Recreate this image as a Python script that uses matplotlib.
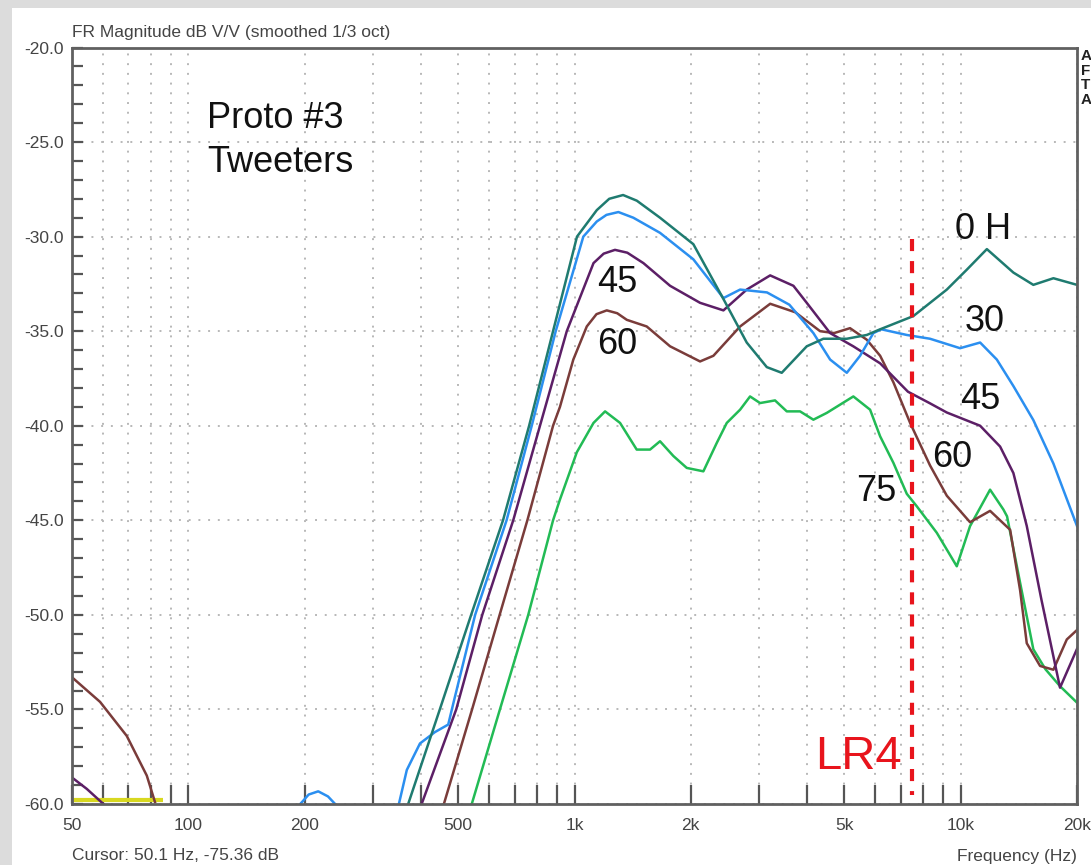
import numpy as np
import matplotlib.pyplot as plt
from matplotlib.patches import Rectangle
from matplotlib.ticker import FixedLocator, FixedFormatter

plt.rcParams['font.family'] = ['Liberation Sans', 'DejaVu Sans']

# ====================================
# DATA
# ====================================

# 0 H (on axis)
f_0h = [371, 448, 540, 653, 763, 880, 1015, 1142, 1230, 1336, 1450, 1665, 2031, 2430, 2792,
        3147, 3440, 3993, 4409, 5070, 5711, 6185, 7541, 9204, 10366, 11686, 13687, 15417,
        17377, 20000]
db_0h = [-60, -55, -50, -45, -40, -35, -30, -28.6, -28.0, -27.8, -28.1, -29.0, -30.4, -33.3, -35.6,
         -36.9, -37.2, -35.8, -35.4, -35.4, -35.2, -34.9, -34.2, -32.8, -31.75, -30.66, -31.9, -32.55,
         -32.2, -32.55]

# 30 deg
f_30 = [351, 368, 398, 435, 471, 488, 553, 667, 775, 894, 1054, 1142, 1210, 1299, 1420, 1665,
        2031, 2430, 2684, 3150, 3600, 4154, 4590, 5070, 5488, 5941, 6230, 7250, 8328, 9961,
        11226, 12400, 13687, 15417, 17377, 20000]
db_30 = [-60, -58.2, -56.8, -56.2, -55.8, -54.5, -50, -45, -40, -35, -30, -29.2, -28.85, -28.7, -29.0, -29.8,
         -31.2, -33.25, -32.8, -32.95, -33.6, -35.1, -36.5, -37.2, -36.3, -35.1, -34.9, -35.2, -35.4, -35.9,
         -35.6, -36.5, -37.9, -39.7, -42.0, -45.3]

# 45 deg
f_45 = [402, 494, 577, 694, 814, 955, 1120, 1190, 1273, 1370, 1508, 1768, 2114, 2430, 2792,
        3211, 3688, 3993, 4590, 5270, 6185, 7300, 8300, 9204, 11226, 12645, 13687, 14824,
        16180, 17377, 18075, 20000]
db_45 = [-60, -55, -50, -45, -40, -35, -31.4, -30.9, -30.7, -30.85, -31.4, -32.6, -33.5, -33.9, -32.8,
         -32.05, -32.6, -33.5, -35.1, -35.8, -36.7, -38.2, -38.8, -39.3, -40.0, -41.1, -42.5, -45.3,
         -49.2, -52.2, -53.85, -51.8]
f_45_lo = [50, 54.6, 60.3]
db_45_lo = [-58.6, -59.2, -60]

# 60 deg
f_60 = [459, 543, 640, 755, 880, 917, 993, 1076, 1140, 1212, 1290, 1366, 1538, 1768, 2114,
        2289, 2684, 3211, 3730, 4324, 4700, 5168, 5711, 6185, 6693, 7395, 8328, 9204,
        10570, 11912, 13425, 14247, 14824, 16048, 17377, 18820, 20000]
db_60 = [-60, -55, -50, -45, -40, -39.0, -36.5, -34.75, -34.1, -33.9, -34.05, -34.4, -34.75, -35.8, -36.6,
         -36.3, -34.75, -33.55, -34.0, -35.0, -35.1, -34.84, -35.45, -36.3, -37.7, -39.85, -42.1, -43.7,
         -45.1, -44.5, -45.5, -48.7, -51.5, -52.7, -52.9, -51.3, -50.8]
f_60_lo = [50, 59.1, 69.3, 78.1, 82]
db_60_lo = [-53.3, -54.6, -56.4, -58.5, -59.9]

# 75 deg
f_75 = [542, 641, 759, 880, 917, 1014, 1120, 1200, 1312, 1449, 1569, 1665, 1803, 1953,
        2156, 2335, 2479, 2684, 2848, 3023, 3305, 3545, 3837, 4154, 4500, 5272, 5825,
        6185, 6693, 7250, 7696, 8670, 9767, 10570, 11912, 12896, 13180, 14247, 15417,
        16580, 18075, 20000]
db_75 = [-60, -55, -50, -45, -43.9, -41.4, -39.85, -39.24, -39.85, -41.26, -41.26, -40.82, -41.6, -42.23,
         -42.41, -40.91, -39.85, -39.15, -38.45, -38.8, -38.66, -39.24, -39.24, -39.68, -39.32, -38.45, -39.15,
         -40.56, -41.96, -43.6, -44.26, -45.66, -47.43, -45.31, -43.38, -44.43, -44.79, -48.3, -51.82,
         -52.88, -53.77, -54.64]

# small 30 deg blip around 200 Hz and the yellow floor trace
f_30_blip = [195, 205, 217, 230, 240]
db_30_blip = [-60, -59.5, -59.33, -59.6, -60]
f_floor = [50, 86]
db_floor = [-59.8, -59.8]

crossover_hz = 7480
crossover_db = [-30.1, -59.5]

tick_f = [50, 60, 70, 80, 90, 100, 200, 300, 400, 500, 600, 700, 800, 900, 1000,
          2000, 3000, 4000, 5000, 6000, 7000, 8000, 9000, 10000, 20000]
tick_lbl = ['50', '', '', '', '', '100', '200', '', '', '500', '', '', '', '', '1k',
            '2k', '', '', '5k', '', '', '', '', '10k', '20k']

# ====================================
# PLOT
# ====================================

fig = plt.figure(figsize=(10.91, 8.65), dpi=100, facecolor='#dcdcdc')
fig.patches.append(Rectangle((12 / 1091, 0), 1, 1 - 8 / 865, transform=fig.transFigure,
                             facecolor='white', edgecolor='none', zorder=-1))
ax = fig.add_axes([72 / 1091, 61 / 865, 1005 / 1091, 756.5 / 865])

c_0h = '#1f7b70'
c_30 = '#2b8ff0'
c_45 = '#5c1f66'
c_60 = '#7a3c3a'
c_75 = '#22bb55'

ax.semilogx(f_floor, db_floor, color='#d8d820', lw=3, solid_capstyle='butt', zorder=2)
ax.semilogx(f_60_lo, db_60_lo, color=c_60, lw=1.8)
ax.semilogx(f_45_lo, db_45_lo, color=c_45, lw=1.8)
ax.semilogx(f_30_blip, db_30_blip, color=c_30, lw=1.8)
ax.semilogx(f_75, db_75, color=c_75, lw=1.8)
ax.semilogx(f_60, db_60, color=c_60, lw=1.8)
ax.semilogx(f_45, db_45, color=c_45, lw=1.8)
ax.semilogx(f_30, db_30, color=c_30, lw=1.8)
ax.semilogx(f_0h, db_0h, color=c_0h, lw=1.8)

ax.plot([crossover_hz, crossover_hz], crossover_db, color='#e8141c', lw=3,
        dashes=(2.9, 2.4), zorder=4)

ax.set_xlim(50, 20000)
ax.set_ylim(-60, -20)

ax.xaxis.set_major_locator(FixedLocator(tick_f))
ax.xaxis.set_major_formatter(FixedFormatter(tick_lbl))
ax.xaxis.set_minor_locator(FixedLocator([]))
ax.set_yticks(np.arange(-60, -19, 5))
ax.set_yticklabels(['%.1f' % v for v in np.arange(-60, -19, 5)])
ax.set_yticks(np.arange(-60, -19, 1), minor=True)

ax.tick_params(axis='x', which='major', direction='in', length=14, width=1.6, color='#555',
               pad=10, labelsize=12.5, labelcolor='#444')
ax.tick_params(axis='y', which='major', direction='in', length=8, width=1.6, color='#555',
               labelsize=12.5, labelcolor='#444', pad=6)
ax.tick_params(axis='y', which='minor', direction='in', length=8, width=1.6, color='#555')

ax.grid(True, which='major', color='#b8b8b8', lw=1.4, linestyle=(0, (1, 4)))
ax.set_axisbelow(True)

for s in ax.spines.values():
    s.set_color('#606060')
    s.set_linewidth(2)

# annotations
txt = dict(fontsize=26, color='#111', va='center', ha='left')
ax.text(112, -23.75, 'Proto #3', **txt)
ax.text(112, -26.1, 'Tweeters', **txt)
ax.text(9650, -29.6, '0 H', **txt)
ax.text(10265, -34.5, '30', **txt)
ax.text(1143, -32.4, '45', **txt)
ax.text(1143, -35.7, '60', **txt)
ax.text(9961, -38.6, '45', **txt)
ax.text(8430, -41.7, '60', **txt)
ax.text(5360, -43.5, '75', **txt)
ax.text(4196, -57.5, 'LR4', fontsize=34, color='#e8141c', va='center', ha='left')

fig.text(72 / 1091, 1 - 32 / 865, 'FR Magnitude dB V/V (smoothed 1/3 oct)', fontsize=12.5,
         color='#444', va='center', ha='left')
fig.text(72 / 1091, 1 - 856 / 865, 'Cursor: 50.1 Hz, -75.36 dB', fontsize=12.5,
         color='#444', va='center', ha='left')
fig.text(1077 / 1091, 1 - 856 / 865, 'Frequency (Hz)', fontsize=12.5,
         color='#444', va='center', ha='right')
fig.text(1081 / 1091, 1 - 78 / 865, 'A\nF\nT\nA', fontsize=11, fontweight='bold',
         color='#222', va='center', ha='left', linespacing=1.05)

plt.savefig('out.png', dpi=100, facecolor=fig.get_facecolor())
